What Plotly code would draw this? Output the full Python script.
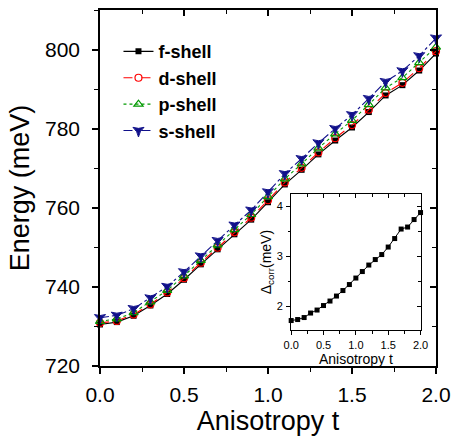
import plotly.graph_objects as go

t = [0.0, 0.1, 0.2, 0.3, 0.4, 0.5, 0.6, 0.7, 0.8, 0.9, 1.0,
     1.1, 1.2, 1.3, 1.4, 1.5, 1.6, 1.7, 1.8, 1.9, 2.0]

f_shell = [730.5, 731.1, 732.7, 735.3, 738.2, 741.8, 745.7, 749.5, 753.3, 757.0, 761.4,
           765.9, 769.6, 773.5, 777.0, 780.3, 784.2, 788.4, 791.0, 794.7, 799.0]
d_shell = [730.9, 731.4, 733.0, 735.6, 738.6, 742.2, 746.1, 749.9, 753.8, 757.5, 761.9,
           766.4, 770.1, 774.0, 777.6, 780.9, 784.8, 789.0, 791.6, 795.3, 799.6]
p_shell = [731.3, 731.9, 733.5, 736.2, 739.1, 742.8, 746.7, 750.6, 754.5, 758.3, 762.8,
           767.3, 771.1, 775.1, 778.7, 782.1, 786.1, 790.3, 792.9, 796.7, 800.6]
s_shell = [732.2, 732.8, 734.5, 737.2, 740.1, 743.8, 747.8, 751.7, 755.6, 759.4, 764.0,
           768.6, 772.4, 776.4, 780.0, 783.5, 787.6, 791.9, 794.6, 798.4, 802.9]

delta_corr = [1.71, 1.73, 1.77, 1.86, 1.92, 2.01, 2.10, 2.20, 2.31, 2.43, 2.56,
              2.69, 2.82, 2.93, 3.03, 3.18, 3.35, 3.54, 3.58, 3.73, 3.87]

FONT = "Liberation Sans, Arial, sans-serif"
NAVY = "#10108a"

fig = go.Figure()

series = [
    ("f-shell", f_shell, "black", "solid", dict(symbol="square", size=6, color="black")),
    ("d-shell", d_shell, "red", "dash", dict(symbol="circle-open", size=7, color="red", line=dict(width=1.2, color="red"))),
    ("p-shell", p_shell, "#009900", "dot", dict(symbol="triangle-up-open", size=8, color="#009900", line=dict(width=1.2, color="#009900"))),
    ("s-shell", s_shell, NAVY, "dashdot", dict(symbol="star-triangle-down", size=8, color=NAVY, line=dict(width=1, color=NAVY))),
]
for name, vals, col, dash, mk in series:
    fig.add_trace(go.Scatter(x=t, y=vals, name=name, mode="lines+markers",
                             line=dict(color=col, width=1.1, dash=dash),
                             marker=mk, cliponaxis=False))

fig.add_trace(go.Scatter(x=t, y=delta_corr, xaxis="x2", yaxis="y2", mode="lines+markers",
                         line=dict(color="black", width=1), marker=dict(symbol="square", size=5, color="black"),
                         showlegend=False, cliponaxis=False))

# dummy traces so mirror axes are drawn
for xa, ya in [("x3", "y"), ("x", "y3"), ("x4", "y2"), ("x2", "y4")]:
    fig.add_trace(go.Scatter(x=[None], y=[None], xaxis=xa, yaxis=ya, showlegend=False, hoverinfo="skip"))

ax_common = dict(showline=True, linecolor="black", showgrid=False, zeroline=False, tickcolor="black")

fig.update_layout(
    width=461, height=439,
    margin=dict(l=100, r=15, t=10, b=65),
    paper_bgcolor="white", plot_bgcolor="white",
    font=dict(family=FONT, color="black"),
    showlegend=True,
    legend=dict(x=0.055, y=0.935, xanchor="left", yanchor="top", bgcolor="rgba(0,0,0,0)",
                font=dict(family=FONT, size=18, weight="bold"), tracegroupgap=0),
    xaxis=dict(**ax_common, domain=[0, 1], range=[0, 2.0], anchor="y", linewidth=1.5,
               ticks="outside", ticklen=6, tickwidth=1.5, dtick=0.5, tickformat=".1f",
               minor=dict(ticks="outside", ticklen=4, tickwidth=1.2, dtick=0.25),
               tickfont=dict(size=21), ticklabelstandoff=3,
               title=dict(text="Anisotropy t", font=dict(size=27), standoff=4)),
    yaxis=dict(**ax_common, domain=[0, 1], range=[720, 810], anchor="x", linewidth=1.5,
               ticks="outside", ticklen=6, tickwidth=1.5, dtick=20,
               minor=dict(ticks="outside", ticklen=4, tickwidth=1.2, dtick=10),
               tickfont=dict(size=21), ticklabelstandoff=8,
               title=dict(text="Energy (meV)", font=dict(size=27), standoff=8)),
    xaxis3=dict(**ax_common, overlaying="x", side="top", anchor="y", range=[0, 2.0], linewidth=1.5,
                ticks="inside", ticklen=6, tickwidth=1.5, dtick=0.5, showticklabels=False,
                minor=dict(ticks="inside", ticklen=4, tickwidth=1.2, dtick=0.25)),
    yaxis3=dict(**ax_common, overlaying="y", side="right", anchor="x", range=[720, 810], linewidth=1.5,
                ticks="inside", ticklen=6, tickwidth=1.5, dtick=20, showticklabels=False,
                minor=dict(ticks="inside", ticklen=4, tickwidth=1.2, dtick=10)),
    xaxis2=dict(**ax_common, domain=[0.569, 0.954], range=[0, 2.0], anchor="y2", linewidth=1,
                ticks="outside", ticklen=4, tickwidth=1, dtick=0.5, tickformat=".1f",
                minor=dict(ticks="outside", ticklen=2.5, tickwidth=1, dtick=0.25),
                tickfont=dict(size=11), ticklabelstandoff=1,
                title=dict(text="Anisotropy t", font=dict(size=14), standoff=2)),
    yaxis2=dict(**ax_common, domain=[0.101, 0.483], range=[1.52, 4.24], anchor="x2", linewidth=1,
                ticks="outside", ticklen=4, tickwidth=1, dtick=1,
                minor=dict(ticks="outside", ticklen=2.5, tickwidth=1, dtick=0.5),
                tickfont=dict(size=11), ticklabelstandoff=1,
                title=dict(text="\u0394<sub>corr</sub>(meV)", font=dict(size=14), standoff=1)),
    xaxis4=dict(**ax_common, overlaying="x2", side="top", anchor="y2", range=[0, 2.0], linewidth=1,
                ticks="inside", ticklen=4, tickwidth=1, dtick=0.5, showticklabels=False,
                minor=dict(ticks="inside", ticklen=2.5, tickwidth=1, dtick=0.25)),
    yaxis4=dict(**ax_common, overlaying="y2", side="right", anchor="x2", range=[1.52, 4.24], linewidth=1,
                ticks="inside", ticklen=4, tickwidth=1, dtick=1, showticklabels=False,
                minor=dict(ticks="inside", ticklen=2.5, tickwidth=1, dtick=0.5)),
)

fig.write_html("out.html")
